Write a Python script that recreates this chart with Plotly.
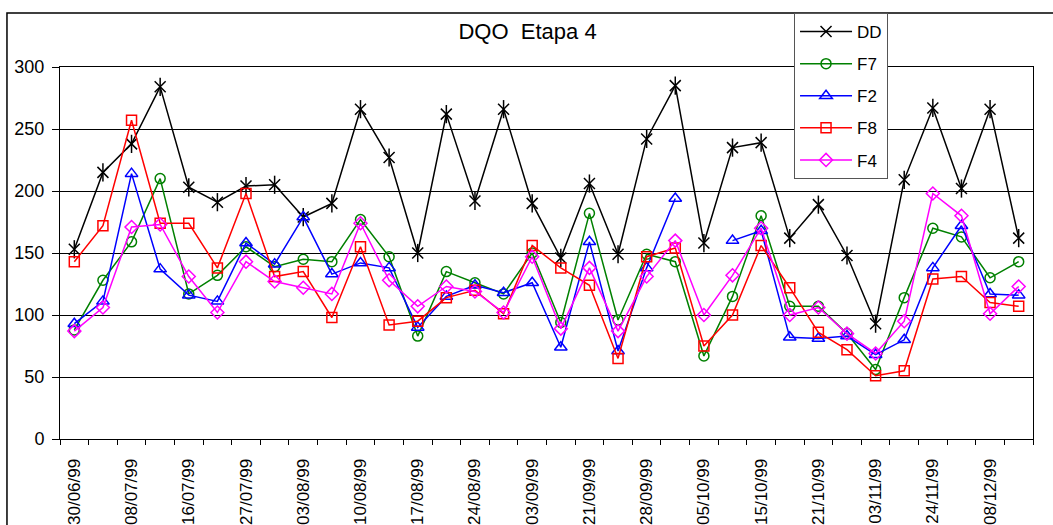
import plotly.graph_objects as go

# ---- data ----
x_index = list(range(34))
tick_positions = list(range(0, 34, 2))
tick_labels = ["30/06/99", "08/07/99", "16/07/99", "27/07/99", "03/08/99", "10/08/99",
               "17/08/99", "24/08/99", "03/09/99", "21/09/99", "28/09/99", "05/10/99",
               "15/10/99", "21/10/99", "03/11/99", "24/11/99", "08/12/99"]

DD = [153, 215, 238, 284, 203, 191, 204, 205, 179, 190, 266, 227, 150, 262, 192, 266, 190,
      146, 206, 149, 242, 285, 158, 235, 239, 162, 189, 148, 93, 209, 267, 202, 266, 162]
F7 = [88, 128, 159, 210, 117, 132, 155, 139, 145, 143, 177, 147, 83, 135, 126, 117, 150,
      94, 182, 96, 149, 143, 67, 115, 180, 107, 107, 85, 56, 114, 170, 163, 130, 143]
F2 = [93, 111, 214, 137, 116, 111, 158, 141, 179, 133, 142, 138, 90, 115, 124, 118, 126,
      74, 159, 71, 138, 194, None, 160, 168, 82, 81, 83, 68, 80, 138, 172, 117, 116]
F8 = [143, 172, 257, 174, 174, 138, 198, 131, 135, 98, 155, 92, 95, 114, 120, 101, 156,
      138, 124, 65, 147, 154, 75, 100, 156, 122, 86, 72, 51, 55, 129, 131, 110, 107]
F4 = [87, 106, 171, 173, 131, 102, 143, 127, 122, 117, 174, 128, 107, 123, 119, 102, 147,
      89, 138, 87, 131, 160, 100, 132, 170, 100, 106, 85, 69, 95, 198, 180, 101, 123]

FONT = "Liberation Sans, Arial, sans-serif"

fig = go.Figure()

series = [
    ("DD", DD, "#000000", "x-thin-open", 11),
    ("F7", F7, "#008000", "circle-open", 10),
    ("F2", F2, "#0000FF", "triangle-up-open", 11),
    ("F8", F8, "#FF0000", "square-open", 10),
    ("F4", F4, "#FF00FF", "diamond-open", 10),
]

for name, vals, color, sym, size in series:
    fig.add_trace(go.Scatter(
        x=x_index, y=vals, name=name, mode="lines+markers",
        legendgroup=name,
        line=dict(color=color, width=1.5),
        marker=dict(symbol=sym, size=size, color=color, line=dict(color=color, width=1.5)),
    ))
    if name == "DD":
        fig.add_trace(go.Scatter(
            x=x_index, y=vals, mode="markers", showlegend=False, hoverinfo="skip",
            marker=dict(symbol="line-ns-open", size=13, color=color,
                        line=dict(color=color, width=1.5)),
        ))

fig.update_layout(
    width=1053, height=525,
    margin=dict(l=60, r=20, t=67, b=86, autoexpand=False),
    paper_bgcolor="white", plot_bgcolor="white",
    font=dict(family=FONT, size=18, color="#000000"),
    title=dict(text="DQO&nbsp;&nbsp;Etapa 4", x=0.501, xref="container",
               y=1 - 31 / 525, yref="container", xanchor="center", yanchor="middle",
               font=dict(family=FONT, size=22, color="#000000")),
    showlegend=True,
    legend=dict(x=0.7544, y=1.1452, xanchor="left", yanchor="top",
                bgcolor="white", bordercolor="#555555", borderwidth=1,
                font=dict(family=FONT, size=17), tracegroupgap=7,
                traceorder="grouped", itemwidth=52),
    xaxis=dict(
        range=[-0.5, 33.5], tickmode="array", tickvals=tick_positions, ticktext=tick_labels,
        tickangle=-90, ticks="", showgrid=False, zeroline=False, automargin=False,
        showline=True, linecolor="#000000", linewidth=1, mirror=True,
        tickfont=dict(family=FONT, size=17),
        ticklabelstandoff=12,
        minor=dict(tick0=-0.5, dtick=1, ticks="outside", ticklen=5, tickcolor="#000000",
                   tickwidth=1, showgrid=False),
    ),
    yaxis=dict(
        range=[0, 300], tickmode="array", tickvals=[0, 50, 100, 150, 200, 250, 300],
        ticks="outside", ticklen=7, tickcolor="#000000", automargin=False,
        showgrid=True, gridcolor="#000000", gridwidth=1, zeroline=False,
        showline=True, linecolor="#000000", linewidth=1, mirror=True,
        tickfont=dict(family=FONT, size=18),
        ticklabelstandoff=4,
    ),
    shapes=[dict(type="rect", xref="paper", yref="paper",
                 x0=-0.0545, y0=-0.6, x1=1.2, y1=1.1452,
                 line=dict(color="#000000", width=1.5), layer="below")],
)

fig.write_html("out.html")
